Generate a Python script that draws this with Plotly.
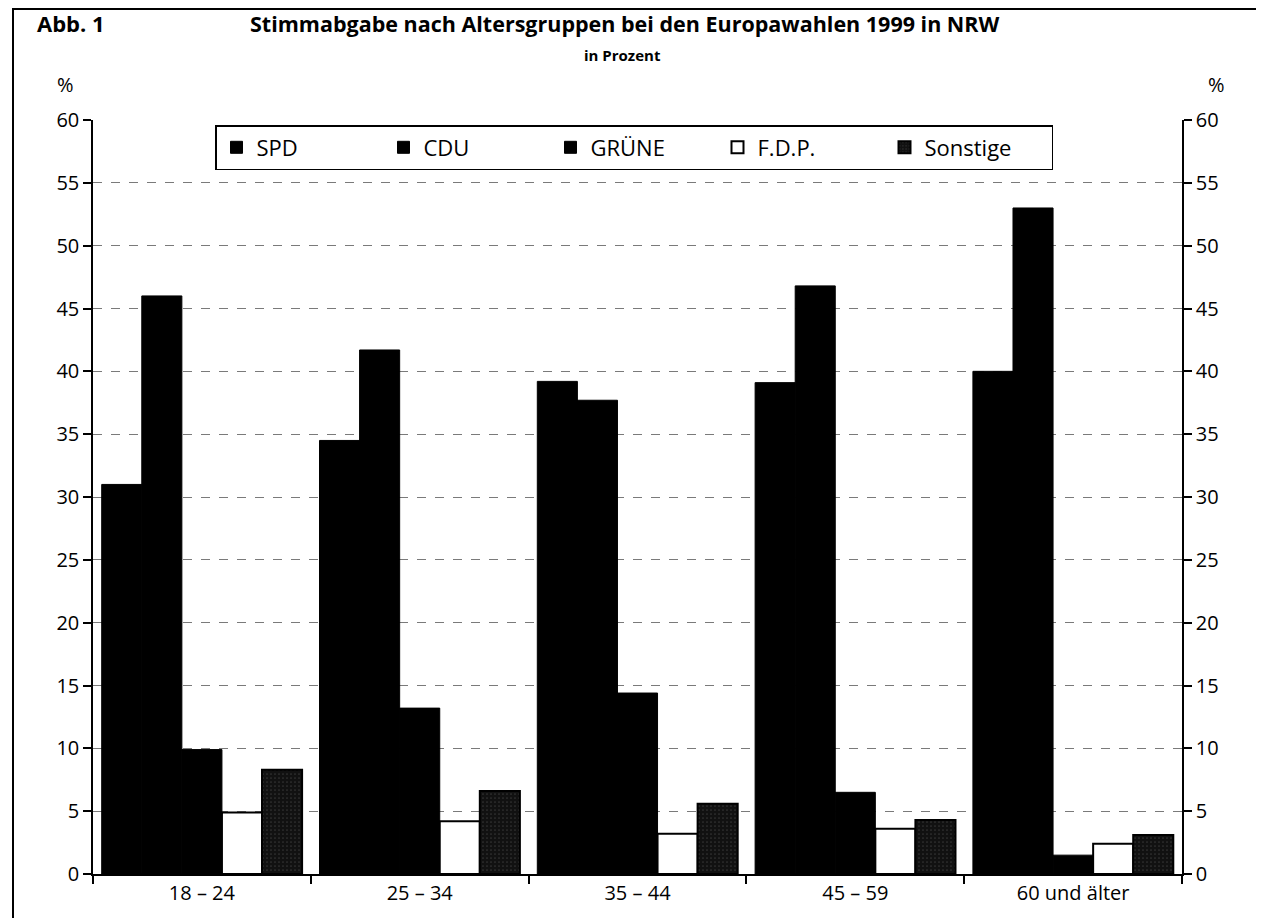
import plotly.graph_objects as go

# ---- data ----
age_groups = ["18 – 24", "25 – 34", "35 – 44", "45 – 59", "60 und älter"]
spd = [31.0, 34.5, 39.2, 39.1, 40.0]
cdu = [46.0, 41.7, 37.7, 46.8, 53.0]
gruene = [9.9, 13.2, 14.4, 6.5, 1.5]
fdp = [4.9, 4.2, 3.2, 3.6, 2.4]
sonstige = [8.3, 6.6, 5.6, 4.3, 3.1]
y_ticks = list(range(0, 61, 5))

FONT = "Open Sans"

# the page body adds an 8px margin, so work in page pixels minus 8
OFF = 8
W, H = 1264 - OFF, 918 - OFF
L, R, T, B = 93 - OFF, 1182 - OFF, 120 - OFF, 874 - OFF
PW, PH = R - L, B - T


def px(xp):
    return (xp - OFF - L) / PW


def py(yp):
    return (B - (yp - OFF)) / PH


fig = go.Figure()

fig.add_trace(go.Bar(name="SPD", x=age_groups, y=spd,
                     marker=dict(color="#000000", line=dict(color="#000000", width=1))))
fig.add_trace(go.Bar(name="CDU", x=age_groups, y=cdu,
                     marker=dict(color="#000000", line=dict(color="#000000", width=1))))
fig.add_trace(go.Bar(name="GRÜNE", x=age_groups, y=gruene,
                     marker=dict(color="#000000", line=dict(color="#000000", width=1))))
fig.add_trace(go.Bar(name="F.D.P.", x=age_groups, y=fdp,
                     marker=dict(color="#ffffff", line=dict(color="#000000", width=2))))
fig.add_trace(go.Bar(name="Sonstige", x=age_groups, y=sonstige,
                     marker=dict(color="#111111", line=dict(color="#000000", width=2),
                                 pattern=dict(shape=".", fgcolor="#555555", size=4, solidity=0.15))))

# invisible helper trace so the right-hand axis is drawn
fig.add_trace(go.Scatter(x=age_groups, y=[None] * len(age_groups), yaxis="y2",
                         mode="lines", showlegend=False, hoverinfo="skip"))

tick_font = dict(family=FONT, size=20, color="#000000")

fig.update_layout(
    width=W, height=H,
    margin=dict(l=L, r=W - R, t=T, b=H - B, pad=0),
    paper_bgcolor="#ffffff", plot_bgcolor="#ffffff",
    barmode="group", bargap=0.08, bargroupgap=0.0,
    font=dict(family=FONT, color="#000000"),
    xaxis=dict(
        type="category", showline=True, linecolor="#000000", linewidth=1.5,
        ticks="outside", tickson="boundaries", ticklen=8, tickcolor="#000000",
        tickwidth=1.5, showgrid=False, tickfont=tick_font,
    ),
    yaxis=dict(
        range=[0, 60], tickvals=y_ticks, showline=True, linecolor="#000000",
        linewidth=1.5, ticks="outside", ticklen=8, tickcolor="#000000", tickwidth=1.5,
        showgrid=True, gridcolor="#7a7a7a", gridwidth=1, griddash="dash",
        zeroline=False, tickfont=tick_font,
    ),
    yaxis2=dict(
        range=[0, 60], tickvals=y_ticks, overlaying="y", side="right",
        showline=True, linecolor="#000000", linewidth=1.5, ticks="outside",
        ticklen=8, tickcolor="#000000", tickwidth=1.5, showgrid=False,
        zeroline=False, tickfont=tick_font,
    ),
    legend=dict(
        orientation="h", x=px(215), xanchor="left", y=py(125), yanchor="top",
        bgcolor="#ffffff", bordercolor="#000000", borderwidth=1.5,
        font=dict(family=FONT, size=22, color="#000000"),
        entrywidth=122, entrywidthmode="pixels", traceorder="normal",
    ),
    showlegend=True,
)

# texts
fig.add_annotation(text="<b>Abb. 1</b>", xref="paper", yref="paper",
                   x=px(35), y=py(23), xanchor="left", yanchor="middle",
                   showarrow=False, font=dict(family=FONT, size=22))
fig.add_annotation(text="<b>Stimmabgabe nach Altersgruppen bei den Europawahlen 1999 in NRW</b>",
                   xref="paper", yref="paper", x=px(625), y=py(23),
                   xanchor="center", yanchor="middle", showarrow=False,
                   font=dict(family=FONT, size=21.5))
fig.add_annotation(text="<b>in Prozent</b>", xref="paper", yref="paper",
                   x=px(622), y=py(55), xanchor="center", yanchor="middle",
                   showarrow=False, font=dict(family=FONT, size=15))
fig.add_annotation(text="%", xref="paper", yref="paper", x=px(65), y=py(84),
                   xanchor="center", yanchor="middle", showarrow=False,
                   font=dict(family=FONT, size=20))
fig.add_annotation(text="%", xref="paper", yref="paper", x=px(1216), y=py(84),
                   xanchor="center", yanchor="middle", showarrow=False,
                   font=dict(family=FONT, size=20))

# outer frame
fig.add_shape(type="rect", xref="paper", yref="paper",
              x0=px(13), x1=px(1275), y0=py(935), y1=py(9),
              line=dict(color="#000000", width=2), fillcolor="rgba(0,0,0,0)", layer="below")

fig.write_html("out.html")
